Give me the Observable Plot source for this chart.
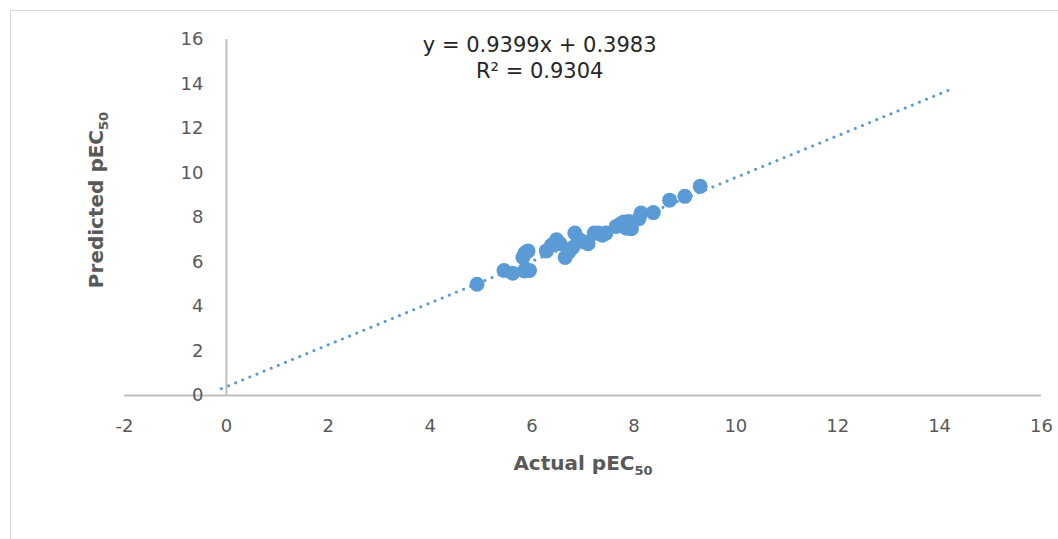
<!DOCTYPE html>
<html>
<head>
<meta charset="utf-8">
<script src="https://cdn.jsdelivr.net/npm/d3@7"></script>
<script src="https://cdn.jsdelivr.net/npm/@observablehq/plot@0.6"></script>
<style>
  html, body { margin: 0; padding: 0; background: #fff; overflow: hidden; }
  #wrap { position: relative; width: 1058px; height: 539px; }
  #frame { position: absolute; left: 10px; top: 10px; width: 1100px; height: 600px;
           border-left: 1.5px solid #d9d9d9; border-top: 1.5px solid #d9d9d9; box-sizing: border-box; }
  #chart { position: absolute; left: 0; top: 0; }
</style>
</head>
<body>
<div id="wrap"><div id="frame"></div><div id="chart"></div></div>
<script>
// Actual vs predicted pEC50
const actual = [4.92, 5.45, 5.62, 5.85, 5.95, 5.82, 5.86, 5.92, 6.28, 6.38, 6.48, 6.55, 6.65, 6.72, 6.80, 6.84, 6.92, 7.02, 7.10, 7.22, 7.30, 7.45, 7.38, 7.65, 7.74, 7.80, 7.90, 7.85, 7.95, 8.14, 8.10, 8.38, 8.70, 9.00, 9.30];
const predicted = [5.00, 5.62, 5.50, 5.60, 5.62, 6.20, 6.40, 6.50, 6.50, 6.75, 7.00, 6.82, 6.20, 6.45, 6.65, 7.30, 7.02, 6.90, 6.82, 7.30, 7.30, 7.30, 7.20, 7.60, 7.72, 7.80, 7.82, 7.52, 7.50, 8.20, 7.95, 8.22, 8.78, 8.95, 9.40];
const slope = 0.9399, intercept = 0.3983, r2 = 0.9304;
const trendX = [-0.1, 14.2];
const xTicks = [-2, 0, 2, 4, 6, 8, 10, 12, 14, 16];
const yTicks = [0, 2, 4, 6, 8, 10, 12, 14, 16];
const eqLine1 = "y = 0.9399x + 0.3983";
const eqLine2 = "R² = 0.9304";

const points = actual.map((a, i) => ({x: a, y: predicted[i]}));
const trend = trendX.map(x => ({x, y: slope * x + intercept}));
const blue = "#5b9bd5";
const grey = "#595959";
const axisCol = "#bfbfbf";
const font = "'DejaVu Sans', Verdana, sans-serif";

const plot = Plot.plot({
  width: 1058,
  height: 539,
  marginLeft: 124,
  marginRight: 17,
  marginTop: 39,
  marginBottom: 144,
  style: {fontFamily: font, background: "transparent", overflow: "visible"},
  x: {domain: [-2, 16], axis: null},
  y: {domain: [0, 16], axis: null},
  marks: [
    Plot.ruleY([0], {stroke: axisCol, strokeWidth: 2}),
    Plot.ruleX([0], {stroke: axisCol, strokeWidth: 2}),
    Plot.text(yTicks, {x: -2, y: d => d, text: d => String(d), textAnchor: "end", dx: 79, fill: grey, fontSize: 18}),
    Plot.text(xTicks, {x: d => d, y: 0, text: d => String(d), dy: 31, fill: grey, fontSize: 18}),
    Plot.line(trend, {x: "x", y: "y", stroke: blue, strokeWidth: 3, strokeDasharray: "0.1,7.6", strokeLinecap: "round"}),
    Plot.dot(points, {x: "x", y: "y", r: 7.5, fill: blue, stroke: null}),
    Plot.text([eqLine1], {x: 6.15, y: 16, text: d => d, dy: 6, fill: "#262626", fontSize: 21}),
    Plot.text([eqLine2], {x: 6.15, y: 16, text: d => d, dy: 32, fill: "#262626", fontSize: 21})
  ]
});
document.getElementById("chart").appendChild(plot);

// axis titles with subscript
const svg = d3.select(plot);
const xt = svg.append("text").attr("x", 583).attr("y", 470).attr("text-anchor", "middle")
  .attr("font-family", font).attr("font-weight", "bold").attr("font-size", 20).attr("fill", grey);
xt.append("tspan").text("Actual pEC");
xt.append("tspan").text("50").attr("font-size", 13).attr("dy", 5);
const yt = svg.append("text").attr("transform", "translate(103,200) rotate(-90)").attr("text-anchor", "middle")
  .attr("font-family", font).attr("font-weight", "bold").attr("font-size", 20).attr("fill", grey);
yt.append("tspan").text("Predicted pEC");
yt.append("tspan").text("50").attr("font-size", 13).attr("dy", 5);
</script>
</body>
</html>
